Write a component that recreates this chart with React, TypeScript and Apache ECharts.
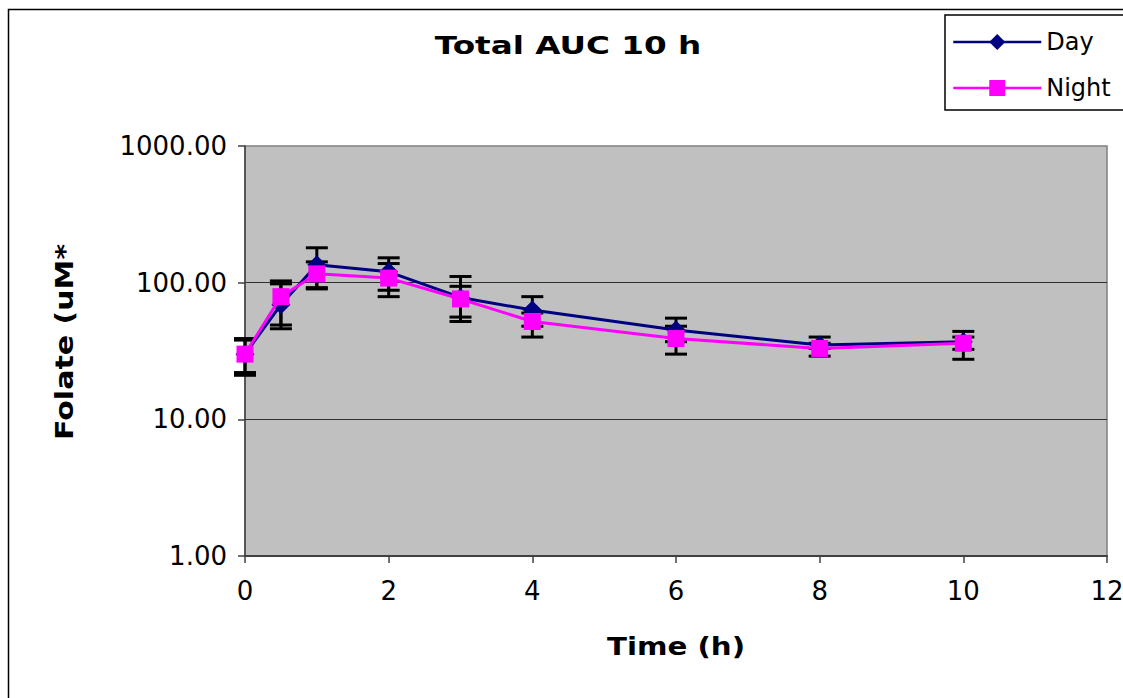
import React, { useEffect, useRef } from "react";
import * as echarts from "echarts";

// Time points (h)
const times = [0, 0.5, 1, 2, 3, 4, 6, 8, 10];
// Day series: mean and error bar bounds
const dayMean = [30, 69, 135, 120, 78, 63, 45, 35, 37];
const dayLow = [21, 46, 90, 88, 52, 48, 37, 33, 32.5];
const dayHigh = [39, 98, 180, 152, 111, 79, 55, 40, 44];
// Night series: mean and error bar bounds
const nightMean = [30, 79, 116, 108, 76, 52, 39, 33, 36];
const nightLow = [22, 49, 92, 79, 56, 40, 30, 29, 27.5];
const nightHigh = [38, 103, 142, 138, 94, 60, 48, 36, 40];

const titleText = "Total AUC 10 h";
const xName = "Time (h)";
const yName = "Folate (uM*h)";
const seriesNames = ["Day", "Night"];

const renderErr = (params: any, api: any) => {
  const x = api.value(0);
  const lo = api.value(1);
  const hi = api.value(2);
  const pLo = api.coord([x, lo]);
  const pHi = api.coord([x, hi]);
  const h = 11;
  const style = { stroke: "#000", lineWidth: 3 };
  return {
    type: "group",
    children: [
      { type: "line", shape: { x1: pLo[0], y1: pLo[1], x2: pHi[0], y2: pHi[1] }, style },
      { type: "line", shape: { x1: pLo[0] - h, y1: pLo[1], x2: pLo[0] + h, y2: pLo[1] }, style },
      { type: "line", shape: { x1: pHi[0] - h, y1: pHi[1], x2: pHi[0] + h, y2: pHi[1] }, style },
    ],
  };
};

export default function App() {
  const ref = useRef<HTMLDivElement>(null);
  useEffect(() => {
    if (!ref.current) return;
    const chart = echarts.init(ref.current, undefined, { renderer: "svg" });
    const option: any = {
      animation: false,
      backgroundColor: "#fff",
      grid: {
        left: 245,
        top: 146,
        right: 16,
        bottom: 142,
        outerBoundsMode: "none",
        containLabel: false,
        show: true,
        backgroundColor: "#c0c0c0",
        borderColor: "#808080",
        borderWidth: 1.5,
      },
      legend: {
        data: seriesNames,
        orient: "vertical",
        left: 945,
        top: 15,
        padding: [14, 40, 9, 7],
        itemGap: 20,
        itemWidth: 88,
        itemHeight: 20,
        backgroundColor: "#fff",
        borderColor: "#000",
        borderWidth: 1.5,
        lineStyle: { width: 2.5 },
        textStyle: { fontFamily: "DejaVu Sans", fontSize: 24, color: "#000", lineHeight: 26 },
      },
      xAxis: {
        type: "value",
        min: 0,
        max: 12,
        interval: 2,
        splitLine: { show: false },
        axisLine: { show: true, onZero: false, lineStyle: { color: "#404040", width: 2 } },
        axisTick: { show: true, length: 7, lineStyle: { color: "#404040", width: 1.5 } },
        axisLabel: { fontFamily: "DejaVu Sans", fontSize: 26, color: "#000", margin: 22 },
      },
      yAxis: {
        type: "log",
        logBase: 10,
        min: 1,
        max: 1000,
        axisLine: { show: true, lineStyle: { color: "#404040", width: 1.5 } },
        axisTick: { show: true, length: 7, lineStyle: { color: "#404040", width: 1.5 } },
        splitLine: { show: true, showMinLine: false, showMaxLine: false, lineStyle: { color: "#303030", width: 1 } },
        axisLabel: {
          fontFamily: "DejaVu Sans",
          fontSize: 26,
          color: "#000",
          margin: 18,
          formatter: (v: number) => v.toFixed(2),
        },
      },
      graphic: [
        {
          type: "rect",
          silent: true,
          z: -10,
          shape: { x: 8.5, y: 9.5, width: 1400, height: 1000 },
          style: { fill: "none", stroke: "#000", lineWidth: 1.5 },
        },
        {
          type: "text",
          x: 568,
          y: 46,
          scaleX: 1.36,
          style: {
            text: titleText,
            font: "bold 24px 'DejaVu Sans'",
            fill: "#000",
            textAlign: "center",
            textVerticalAlign: "middle",
          },
        },
        {
          type: "text",
          x: 676,
          y: 646,
          scaleX: 1.22,
          style: {
            text: xName,
            font: "bold 24px 'DejaVu Sans'",
            fill: "#000",
            textAlign: "center",
            textVerticalAlign: "middle",
          },
        },
        {
          type: "text",
          x: 65,
          y: 440,
          rotation: Math.PI / 2,
          scaleX: 1.25,
          style: {
            text: yName,
            font: "bold 24px 'DejaVu Sans'",
            fill: "#000",
            textAlign: "left",
            textVerticalAlign: "middle",
            width: 166,
            overflow: "truncate",
            ellipsis: "",
          },
        },
      ],
      series: [
        {
          name: "errDay",
          type: "custom",
          renderItem: renderErr,
          data: times.map((t, i) => [t, dayLow[i], dayHigh[i]]),
          encode: { x: 0, y: [1, 2] },
          z: 1,
          silent: true,
        },
        {
          name: "errNight",
          type: "custom",
          renderItem: renderErr,
          data: times.map((t, i) => [t, nightLow[i], nightHigh[i]]),
          encode: { x: 0, y: [1, 2] },
          z: 1,
          silent: true,
        },
        {
          name: "Day",
          type: "line",
          data: times.map((t, i) => [t, dayMean[i]]),
          symbol: "diamond",
          symbolSize: 19,
          showAllSymbol: true,
          lineStyle: { color: "#000080", width: 3 },
          itemStyle: { color: "#000080" },
          z: 3,
        },
        {
          name: "Night",
          type: "line",
          data: times.map((t, i) => [t, nightMean[i]]),
          symbol: "rect",
          symbolSize: 17,
          showAllSymbol: true,
          lineStyle: { color: "#ff00ff", width: 3 },
          itemStyle: { color: "#ff00ff" },
          z: 4,
        },
      ],
    };
    chart.setOption(option);
    return () => chart.dispose();
  }, []);
  return (
    <div
      ref={ref}
      style={{ position: "absolute", left: 0, top: 0, width: 1123, height: 698 }}
    />
  );
}
